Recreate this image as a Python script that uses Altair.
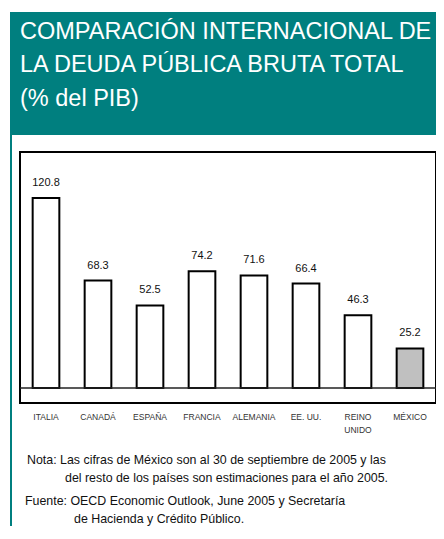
import altair as alt
import pandas as pd

countries = ["ITALIA", "CANADÁ", "ESPAÑA", "FRANCIA", "ALEMANIA", "EE. UU.", "REINO UNIDO", "MÉXICO"]
tick_labels = ["ITALIA", "CANADÁ", "ESPAÑA", "FRANCIA", "ALEMANIA", "EE. UU.", "REINO\nUNIDO", "MÉXICO"]
values = [120.8, 68.3, 52.5, 74.2, 71.6, 66.4, 46.3, 25.2]
highlight = [0, 0, 0, 0, 0, 0, 0, 1]
baseline_value = [0]

title_lines = [
    "COMPARACIÓN INTERNACIONAL DE",
    "LA DEUDA PÚBLICA BRUTA TOTAL",
    "(% del PIB)",
]
note_lines = [
    "Nota: Las cifras de México son al 30 de septiembre de 2005 y las",
    "del resto de los países son estimaciones para el año 2005.",
    "Fuente: OECD Economic Outlook, June 2005 y Secretaría",
    "de Hacienda y Crédito Público.",
]

df = pd.DataFrame({"pais": countries, "etiqueta": tick_labels, "valor": values, "mexico": highlight})
zero_df = pd.DataFrame({"valor": baseline_value})
one = pd.DataFrame({"k": [0]})

W, H = 416, 251
FONT = "Liberation Sans"
TEAL = "#007F7F"
BOTTOM_PAD = 123

x = alt.X(
    "pais:N",
    sort=countries,
    scale=alt.Scale(paddingInner=0.487, paddingOuter=0.2435),
    axis=None,
)
y = alt.Y("valor:Q", scale=alt.Scale(domain=[-9.5, 150], nice=False), axis=None)

base = alt.Chart(df)

bars = base.mark_bar(stroke="black", strokeWidth=2).encode(
    x=x,
    y=y,
    fill=alt.condition(alt.datum.mexico == 1, alt.value("#C0C0C0"), alt.value("white")),
)
labels = base.mark_text(dy=-12, baseline="alphabetic", fontSize=11, font=FONT, color="#111").encode(
    x=x, y=y, text=alt.Text("valor:Q", format=".1f")
)
xlabels = base.mark_text(
    baseline="top", fontSize=8.5, font=FONT, color="#333", lineBreak="\n", lineHeight=13
).encode(x=x, y=alt.value(H + 10), text="etiqueta:N")

baseline = alt.Chart(zero_df).mark_rule(color="#222", strokeWidth=1.6).encode(y=y)

header = alt.Chart(one).mark_rect(fill=TEAL).encode(
    x=alt.value(-10), x2=alt.value(W), y=alt.value(-140), y2=alt.value(-17)
)
side = alt.Chart(one).mark_rect(fill=TEAL).encode(
    x=alt.value(-10), x2=alt.value(-8), y=alt.value(-17), y2=alt.value(H + BOTTOM_PAD)
)

title_y = [-113.5, -80, -46.5]
title_layers = [
    alt.Chart(one).mark_text(
        align="left", baseline="alphabetic", font=FONT, fontSize=23.5, color="white", text=t
    ).encode(x=alt.value(0), y=alt.value(ty))
    for t, ty in zip(title_lines, title_y)
]

note_pos = [(7, 312), (45, 330), (5, 353), (54, 371)]
note_layers = [
    alt.Chart(one).mark_text(
        align="left", baseline="alphabetic", font=FONT, fontSize=12.4, color="#111", text=t
    ).encode(x=alt.value(px), y=alt.value(py))
    for t, (px, py) in zip(note_lines, note_pos)
]

chart = alt.layer(header, side, *title_layers, bars, baseline, labels, xlabels, *note_layers).properties(
    width=W,
    height=H,
    autosize=alt.AutoSizeParams(type="none"),
    padding={"left": 12, "top": 144, "right": 0, "bottom": BOTTOM_PAD},
    background="white",
).configure_view(stroke="black", strokeWidth=2)

chart.save("out.html", embed_options={"renderer": "svg", "actions": False})
